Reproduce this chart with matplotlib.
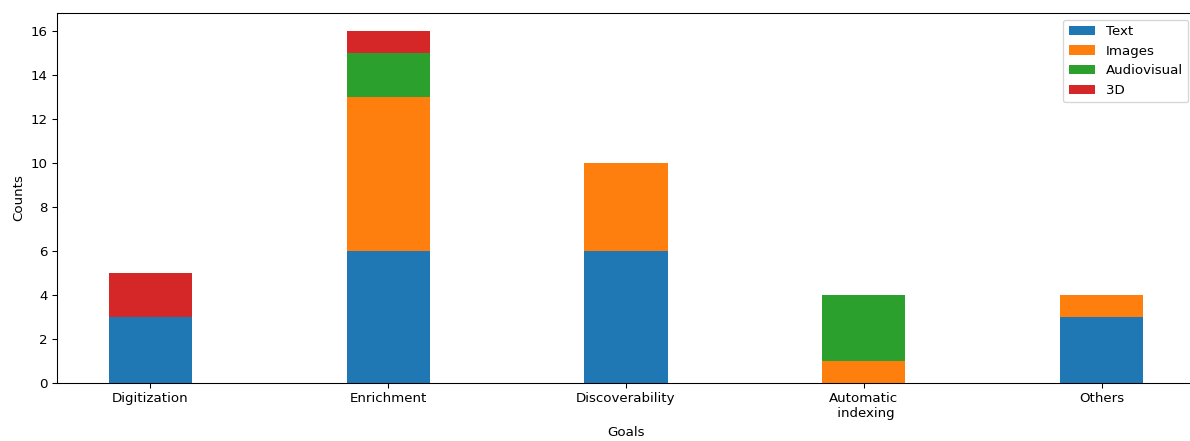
import numpy as np
import matplotlib
matplotlib.use('Agg')
import matplotlib.pyplot as plt

# goals on the x axis
goals = ['Digitization', 'Enrichment', 'Discoverability', 'Automatic\n indexing', 'Others']

# counts per data type
text = [3, 6, 6, 0, 3]
images = [0, 7, 4, 1, 1]
audiovisual = [0, 2, 0, 3, 0]
threed = [2, 1, 0, 0, 0]

x = np.arange(len(goals))
width = 0.35

W, H = 1190, 441
fig = plt.figure(figsize=(W / 96, H / 96), dpi=96)
# axes runs past the right edge, as in the cropped original
ax = fig.add_axes([57 / W, 58 / H, 1160 / W, 370 / H])

b1 = np.array(text)
b2 = b1 + np.array(images)
b3 = b2 + np.array(audiovisual)

ax.bar(x, text, width, label='Text')
ax.bar(x, images, width, bottom=b1, label='Images')
ax.bar(x, audiovisual, width, bottom=b2, label='Audiovisual')
ax.bar(x, threed, width, bottom=b3, label='3D')

ax.set_xlim(-0.3925, -0.3925 + 1160 / 237.8)
ax.set_xticks(x)
ax.set_xticklabels(goals)
ax.set_xlabel('Goals', x=(626 - 57) / 1160)
ax.set_ylabel('Counts')
ax.legend(loc='upper right', bbox_to_anchor=(1195 / W, 1 - 13 / H),
          bbox_transform=fig.transFigure)

fig.savefig('out.png', dpi=96)
